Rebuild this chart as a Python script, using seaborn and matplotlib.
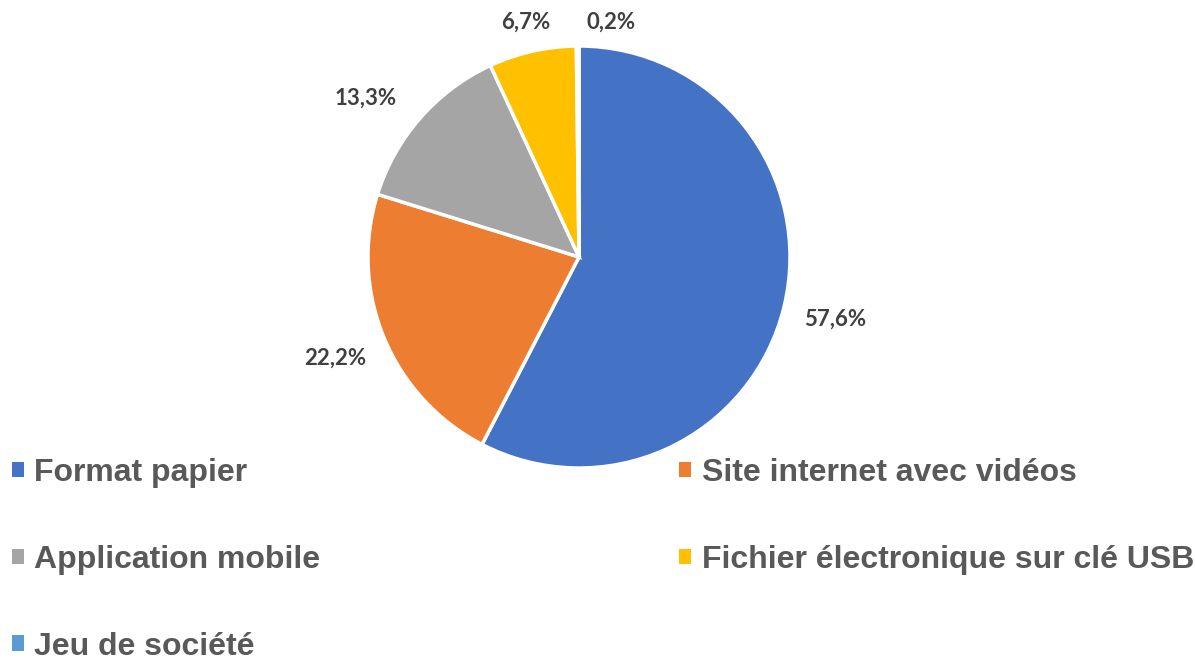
import numpy as np
import seaborn as sns
import matplotlib.pyplot as plt
from matplotlib.patches import Patch

sns.set_theme(style="white")
plt.rcParams['font.family'] = ['Liberation Sans', 'DejaVu Sans']

# données
categories = ["Format papier", "Site internet avec vidéos", "Application mobile",
              "Fichier électronique sur clé USB", "Jeu de société"]
values = [57.6, 22.2, 13.3, 6.7, 0.2]
pct_labels = ["57,6%", "22,2%", "13,3%", "6,7%", "0,2%"]
colors = ["#4472C4", "#ED7D31", "#A5A5A5", "#FFC000", "#5B9BD5"]

W, H = 1195, 666
fig = plt.figure(figsize=(W / 100, H / 100), dpi=100)

# axe du camembert : centre (579, 257), rayon 211 px
cx, cy, r = 579, 257, 211
ax = fig.add_axes([(cx - r) / W, (H - cy - r) / H, 2 * r / W, 2 * r / H])
wedges, _ = ax.pie(values, colors=colors, startangle=90, counterclock=False,
                   radius=1, wedgeprops=dict(edgecolor="white", linewidth=2.5))
ax.set_xlim(-1, 1)
ax.set_ylim(-1, 1)
ax.set_aspect("equal")
ax.axis("off")

# étiquettes de pourcentage (placement façon Excel)
dist = [1.25, 1.25, 1.25, 1.14, 1.115]
dx = [0, 0, -0.07, 0, 0.16]
dy = [0, 0, -0.07, 0, 0]
for w, lab, d, ox, oy in zip(wedges, pct_labels, dist, dx, dy):
    ang = np.deg2rad((w.theta1 + w.theta2) / 2)
    ax.text(d * np.cos(ang) + ox, d * np.sin(ang) + oy, lab, ha="center", va="center",
            fontsize=16, fontweight="bold", color="#404040",
            family=["Lato", "DejaVu Sans"])

# légende en lignes : réordonner pour ncol=2
handles = [Patch(facecolor=c, edgecolor="none") for c in colors]
order = [0, 2, 4, 1, 3]
fig.legend([handles[i] for i in order], [categories[i] for i in order],
           ncol=2, loc="upper left", bbox_to_anchor=(12 / W, 0, 1182 / W, 1 - 458 / H),
           mode="expand", frameon=False, borderpad=0, borderaxespad=0,
           handlelength=0.38, handleheight=0.38, handletextpad=0.32,
           labelspacing=1.78, labelcolor="#595959",
           prop=dict(family="Liberation Sans", weight="bold", size=23))

fig.savefig("out.png", dpi=100)
